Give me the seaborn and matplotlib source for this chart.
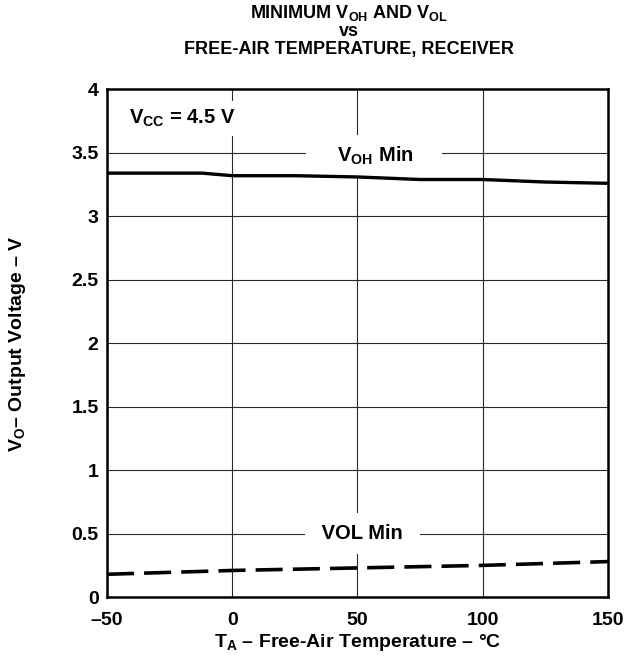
import numpy as np
import pandas as pd
import matplotlib
matplotlib.use("Agg")
import matplotlib.pyplot as plt
import seaborn as sns

# values
temp_voh = [-50, -12, 0, 25, 50, 75, 100, 125, 150]
voh_min = [3.34, 3.34, 3.32, 3.32, 3.31, 3.29, 3.29, 3.27, 3.26]
temp_vol = [-50, 0, 50, 100, 150]
vol_min = [0.18, 0.21, 0.23, 0.25, 0.28]

x_ticks = [-50, 0, 50, 100, 150]
x_tick_labels = ['\u201350', '0', '50', '100', '150']
y_ticks = [0, 0.5, 1, 1.5, 2, 2.5, 3, 3.5, 4]
y_tick_labels = ['0', '0.5', '1', '1.5', '2', '2.5', '3', '3.5', '4']

sns.set_style('white')
plt.rcParams['font.family'] = ['Liberation Sans', 'DejaVu Sans']
plt.rcParams['font.weight'] = 'bold'
plt.rcParams['text.color'] = 'black'
plt.rcParams['axes.labelcolor'] = 'black'
plt.rcParams['xtick.color'] = 'black'
plt.rcParams['ytick.color'] = 'black'
plt.rcParams['mathtext.fontset'] = 'custom'
plt.rcParams['mathtext.rm'] = 'Liberation Sans:bold'
plt.rcParams['mathtext.it'] = 'Liberation Sans:bold'
plt.rcParams['mathtext.bf'] = 'Liberation Sans:bold'

df_voh = pd.DataFrame({'T': temp_voh, 'V': voh_min})
df_vol = pd.DataFrame({'T': temp_vol, 'V': vol_min})

fig = plt.figure(figsize=(6.44, 6.62), dpi=100)
ax = fig.add_axes([0.166, 0.098, 0.778, 0.767])

sns.lineplot(data=df_voh, x='T', y='V', ax=ax, color='black', linewidth=2.4, zorder=3)
sns.lineplot(data=df_vol, x='T', y='V', ax=ax, color='black', linewidth=2.6,
             linestyle=(0, (7.5, 2.8)), zorder=3)

ax.set_xlim(-50, 150)
ax.set_ylim(0, 4)
ax.set_xticks(x_ticks)
ax.set_xticklabels(x_tick_labels)
ax.set_yticks(y_ticks)
ax.set_yticklabels(y_tick_labels)
ax.tick_params(length=0, labelsize=14, colors='black')
ax.tick_params(axis='x', pad=11)
ax.tick_params(axis='y', pad=6)
ax.grid(True, color='#2a2a2a', linewidth=0.8)
ax.set_axisbelow(True)
for s in ax.spines.values():
    s.set_linewidth(1.8)
    s.set_color('black')
    s.set_zorder(4)

ax.set_xlabel('T$_\\mathregular{A}$ \u2013 Free-Air Temperature \u2013 \u00b0C',
              fontsize=14, fontweight='bold')
ax.set_ylabel('V$_\\mathregular{O}$\u2013 Output Voltage \u2013 V', fontsize=14,
              fontweight='bold')
ax.xaxis.set_label_coords(0.5, -0.069)
ax.yaxis.set_label_coords(-0.158, 0.5)

ax.text(-41, 3.77, r'V$_\mathregular{CC}$ = 4.5 V', fontsize=14.5, fontweight='bold',
        va='center', ha='left', zorder=2,
        bbox=dict(facecolor='white', edgecolor='none', pad=5))
ax.text(56.5, 3.48, '    V$_\\mathregular{OH}$ Min    ', fontsize=14.5, fontweight='bold',
        va='center', ha='center', zorder=2,
        bbox=dict(facecolor='white', edgecolor='none', pad=7))
ax.text(52, 0.50, ' VOL Min ', fontsize=14.5, fontweight='bold',
        va='center', ha='center', zorder=2,
        bbox=dict(facecolor='white', edgecolor='none', pad=8))

title = ('MINIMUM V$_\\mathregular{OH}$ AND V$_\\mathregular{OL}$\n'
         'vs\n'
         'FREE-AIR TEMPERATURE, RECEIVER')
fig.text(349 / 644, 1 - 3 / 662, title, fontsize=13, fontweight='bold',
         ha='center', va='top', linespacing=1.02, multialignment='center')

fig.savefig('out.png', dpi=100)
